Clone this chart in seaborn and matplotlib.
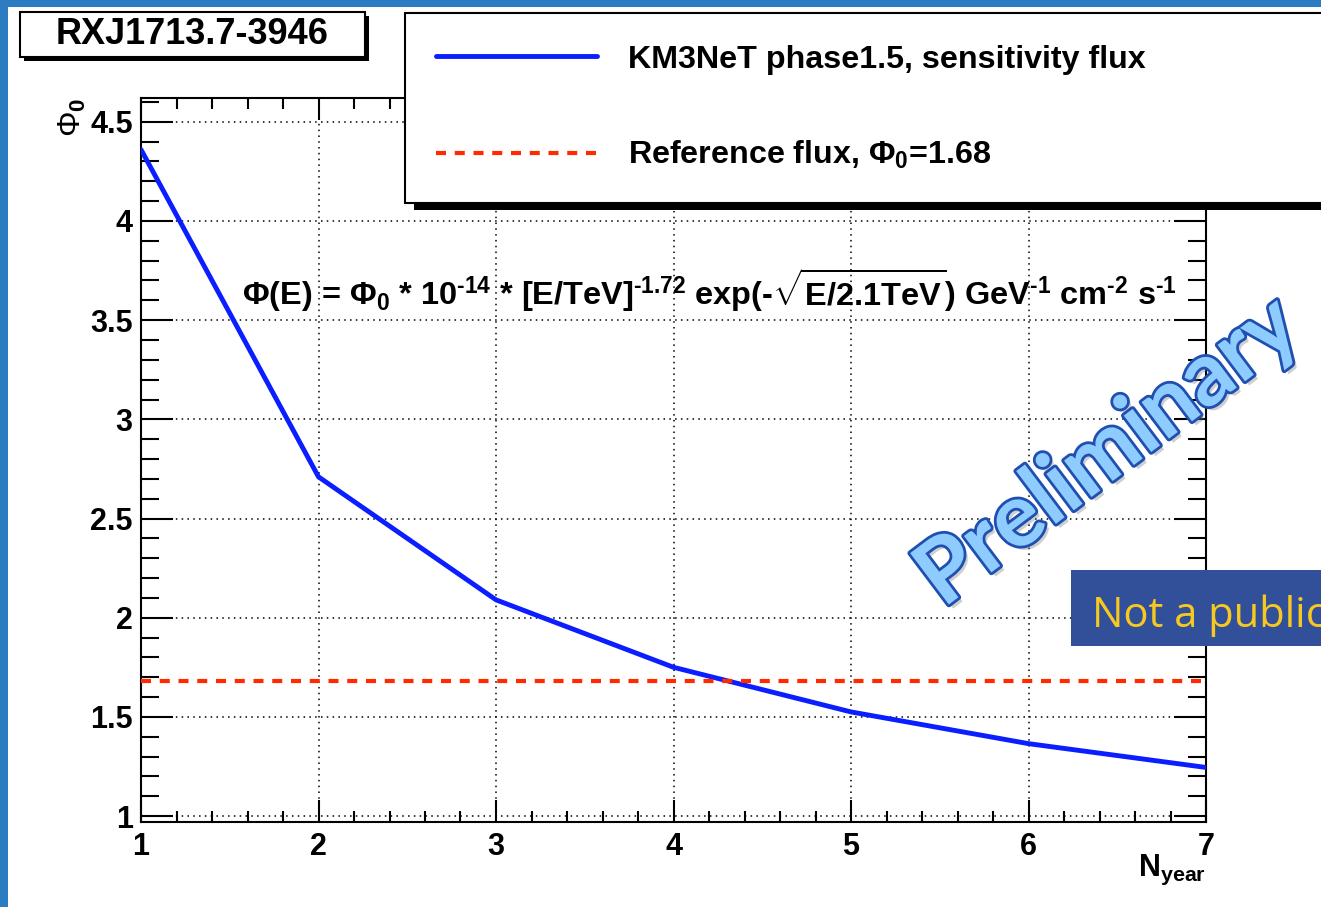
import numpy as np
import pandas as pd
import matplotlib
matplotlib.use("Agg")
import matplotlib.pyplot as plt
import seaborn as sns
from matplotlib.patches import Rectangle
import matplotlib.patheffects as pe
from matplotlib.ticker import MultipleLocator, FixedLocator

# ---------------- data ----------------
n_year = [1, 2, 3, 4, 5, 6, 7]
phi0_sensitivity = [4.36, 2.71, 2.09, 1.75, 1.525, 1.365, 1.245]
phi0_reference = 1.68
x_ticks = [1, 2, 3, 4, 5, 6, 7]
y_ticks = [1, 1.5, 2, 2.5, 3, 3.5, 4, 4.5]
y_tick_labels = ["1", "1.5", "2", "2.5", "3", "3.5", "4", "4.5"]
series_labels = ["KM3NeT phase1.5, sensitivity flux", "Reference flux, \u03a6$_0$=1.68"]
title_text = "RXJ1713.7-3946"
formula_text = ("\u03a6(E) = \u03a6$_0$ * 10$^{\u2010 14}$ * [E/TeV]$^{\u2010 1.72}$ exp(-$\\sqrt{E/2.1TeV}$) "
                "GeV$^{\u2010 1}$ cm$^{\u2010 2}$ s$^{\u2010 1}$")

# ---------------- style ----------------
sns.set_style("white")
plt.rcParams["font.family"] = ["Liberation Sans", "DejaVu Sans"]
plt.rcParams["font.weight"] = "bold"
plt.rcParams["axes.labelweight"] = "bold"
for key in ["text.color", "axes.labelcolor", "xtick.color", "ytick.color", "axes.edgecolor"]:
    plt.rcParams[key] = "black"
plt.rcParams["mathtext.fontset"] = "custom"
plt.rcParams["mathtext.rm"] = "Liberation Sans:bold"
plt.rcParams["mathtext.it"] = "Liberation Sans:bold"
plt.rcParams["mathtext.bf"] = "Liberation Sans:bold"
plt.rcParams["mathtext.sf"] = "Liberation Sans:bold"

W, H = 1321, 907
fig = plt.figure(figsize=(W / 100, H / 100), dpi=100)
fig.patch.set_facecolor("white")


def fx(px):
    return px / W


def fy(py):
    return 1 - py / H


ax = fig.add_axes([fx(141), fy(822), fx(1206) - fx(141), fy(98) - fy(822)])
ax.set_facecolor("white")

df = pd.DataFrame({"N_year": n_year, "phi0": phi0_sensitivity})
sns.lineplot(data=df, x="N_year", y="phi0", ax=ax, color="#0a1eff",
             linewidth=3.5, legend=False, zorder=3)
ax.axhline(phi0_reference, color="#ff2a00", linewidth=3.0,
           dashes=(2.4, 2.1), zorder=3)

ax.set_xlim(1, 7)
ax.set_ylim(0.97, 4.62)
ax.xaxis.set_major_locator(FixedLocator(x_ticks))
ax.xaxis.set_minor_locator(MultipleLocator(0.2))
ax.yaxis.set_major_locator(FixedLocator(y_ticks))
ax.yaxis.set_minor_locator(MultipleLocator(0.1))
ax.set_yticklabels(y_tick_labels)

ax.grid(True, which="major", color="black", linestyle=(0, (1, 2.8)), linewidth=1.1)
ax.set_axisbelow(True)

ax.tick_params(which="both", direction="in", top=True, right=True,
               bottom=True, left=True, width=1.5, color="black")
ax.tick_params(axis="y", which="major", length=23, pad=6, labelsize=22)
ax.tick_params(axis="y", which="minor", length=13)
ax.tick_params(axis="x", which="major", length=16, pad=7, labelsize=22)
ax.tick_params(axis="x", which="minor", length=8)
for s in ax.spines.values():
    s.set_visible(True)
    s.set_color("black")
    s.set_linewidth(1.5)

ax.set_ylabel("\u03a6$_0$", loc="top", fontsize=23, fontweight="normal")
ax.yaxis.set_label_coords(-0.05, 1.0)
ax.set_xlabel("N$_{year}$", loc="right", fontsize=22, fontweight="bold")
ax.xaxis.set_label_coords(1.0, -0.043)

# formula text
fig.text(fx(242), fy(290), formula_text, ha="left", va="center",
         fontsize=23.4, zorder=4)

# title box
fig.add_artist(Rectangle((fx(24), fy(61)), fx(345), fy(12) - fy(57),
                         transform=fig.transFigure, facecolor="black",
                         edgecolor="none", zorder=5))
fig.add_artist(Rectangle((fx(20), fy(57)), fx(345), fy(12) - fy(57),
                         transform=fig.transFigure, facecolor="white",
                         edgecolor="black", linewidth=1.5, zorder=5.1))
fig.text(fx(192), fy(35), title_text, ha="center", va="center",
         fontsize=26, zorder=5.2)

# legend box
fig.add_artist(Rectangle((fx(414), fy(210)), fx(1000), fy(13) - fy(203),
                         transform=fig.transFigure, facecolor="black",
                         edgecolor="none", zorder=5))
fig.add_artist(Rectangle((fx(405), fy(203)), fx(1000), fy(13) - fy(203),
                         transform=fig.transFigure, facecolor="white",
                         edgecolor="black", linewidth=1.5, zorder=5.1))
handles = ax.get_lines()[:2]
leg = fig.legend(handles, series_labels, loc="center left",
                 bbox_to_anchor=(fx(436), fy(108)), frameon=False,
                 fontsize=23.2, handlelength=5.0, handletextpad=0.95,
                 labelspacing=2.0, borderpad=0, borderaxespad=0)
leg.set_zorder(5.3)

# watermark
fig.text(fx(1108), fy(452), "Preliminary", rotation=37, rotation_mode="anchor",
         ha="center", va="center", fontsize=64, family="Lato",
         fontweight="bold", color="#8ecbff", zorder=6,
         path_effects=[pe.SimplePatchShadow(offset=(3, -3), shadow_rgbFace="#777777", alpha=0.35),
                       pe.Stroke(linewidth=4, foreground="#1f4fb0"), pe.Normal()])

# "Not a publication" banner
fig.add_artist(Rectangle((fx(1071), fy(646)), fx(260), fy(570) - fy(646),
                         transform=fig.transFigure, facecolor="#32509a",
                         edgecolor="none", zorder=7))
fig.text(fx(1092), fy(627), "Not a publication", ha="left", va="baseline",
         fontsize=30, family="Open Sans", fontweight="normal",
         color="#f7c81f", zorder=7.1)

# slide border
fig.add_artist(Rectangle((0, 0), fx(8), 1, transform=fig.transFigure,
                         facecolor="#2b7cc0", edgecolor="none", zorder=10))
fig.add_artist(Rectangle((0, fy(7)), 1, fy(0) - fy(7), transform=fig.transFigure,
                         facecolor="#2b7cc0", edgecolor="none", zorder=10))

fig.savefig("out.png", dpi=100)
